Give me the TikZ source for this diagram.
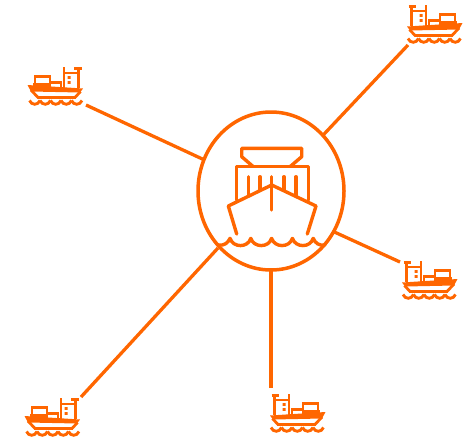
\documentclass[tikz,border=0pt]{standalone}
\usepackage{xcolor}
\usetikzlibrary{shapes.geometric}
\definecolor{shiporange}{RGB}{255,102,0}

\begin{document}
\begin{tikzpicture}[
    x=1pt, y=-1pt,
    hub/.style={ellipse, draw=shiporange, line width=3.5pt, minimum width=146pt, minimum height=158pt, inner sep=0pt, outer sep=0pt},
    link/.style={draw=shiporange, line width=3.3pt},
    port/.style={inner sep=0pt, outer sep=0pt, minimum width=55pt, minimum height=38pt},
    outline/.style={draw=shiporange, line width=3.4pt, line cap=round, line join=round},
    thin outline/.style={draw=shiporange, line width=2.8pt, line join=miter},
    smallship/.pic={
        % superstructure
        \path[thin outline] (4.5,21) -- (4.5,1.5) (1.5,1.5) -- (9,1.5) (4.5,6) -- (19,6) (19,0) -- (19,21);
        \fill[shiporange] (12.5,9) rectangle (15.5,11.8) (12.5,14) rectangle (15.5,16.8);
        \path[thin outline] (22,15.5) rectangle (33,21);
        \path[thin outline] (33,9.5) rectangle (48,20);
        \fill[shiporange] (33,15.5) rectangle (50,21);
        % hull
        \fill[shiporange] (0,21.5) -- (55.5,18) -- (52,24.5) -- (3,25.5) -- cycle;
        \path[thin outline] (2.5,24.5) -- (8,30.5) -- (45,30.5) -- (52,23);
        % waves
        \foreach \i in {0,...,4} {
            \path[thin outline, line width=2.9pt] ({1+10.5*\i},33.5) .. controls ({3+10.5*\i},38.5) and ({9.5+10.5*\i},38.5) .. ({11.5+10.5*\i},33.5);
        }
    }
]
\useasboundingbox (0,0) rectangle (473,439);

\node[hub] (hub) at (271,191) {};

\node[port] (shipA) at (55.5,86) {};
\node[port] (shipB) at (434.5,24) {};
\node[port] (shipC) at (429.5,280) {};
\node[port] (shipD) at (52.5,417) {};
\node[port] (shipE) at (297.5,413) {};

\pic at (83,67) [xscale=-1] {smallship};
\pic at (407,5) {smallship};
\pic at (402,261) {smallship};
\pic at (80,398) [xscale=-1] {smallship};
\pic at (270,394) {smallship};

% big ship
\path[outline] (253.3,166.7) -- (241.7,156.7) -- (241.7,148.3) -- (301.7,148.3) -- (301.7,156.7) -- (290,166.7);
\path[outline] (236.7,200) -- (236.7,166.7) -- (308.3,166.7) -- (308.3,200);
\path[outline] (248.3,176.7) -- (248.3,196);
\path[outline] (260,176.7) -- (260,190);
\path[outline] (284,176.7) -- (284,190);
\path[outline] (296,176.7) -- (296,196);
\path[outline] (271.7,176.7) -- (271.7,210);
\path[outline] (236.7,234) -- (228.3,206) -- (271.7,185) -- (316,206) -- (307.3,234);

% waves
\path[outline] (218.3,245) .. controls (224,246) and (228,243) .. (230,238.3);
\foreach \i in {0,...,3} {
    \path[outline] ({230+20.8*\i},238.3) .. controls ({233+20.8*\i},248) and ({248+20.8*\i},248) .. ({250.8+20.8*\i},238.3);
}
\path[outline] (313.3,238.3) .. controls (315,243) and (319,246) .. (325,245);

% links
\coordinate (endA) at (86,105);
\coordinate (endB) at (408,45);
\coordinate (endC) at (400,262);
\coordinate (endD) at (81,397);
\coordinate (endE) at (271,388);
\coordinate (endW) at (218,248);
\path[link] (endA) -- (hub.155);
\path[link] (endB) -- (hub.47);
\path[link] (endC) -- (hub.-33);
\path[link] (endD) -- (endW);
\path[link] (endE) -- (hub.-90);

\end{tikzpicture}
\end{document}
